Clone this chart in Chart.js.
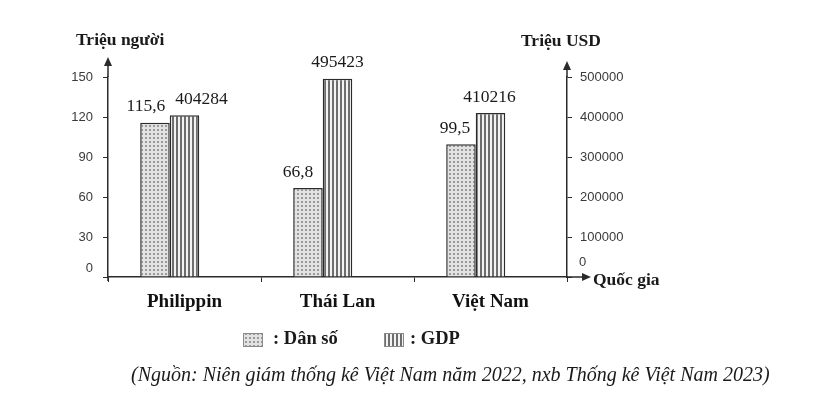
<!DOCTYPE html>
<html>
<head>
<meta charset="utf-8">
<script src="https://cdn.jsdelivr.net/npm/chart.js@4"></script>
<style>
  html, body { margin: 0; padding: 0; background: #fff; }
  #wrap { width: 828px; height: 401px; }
</style>
</head>
<body>
<div id="wrap"><canvas id="chart" width="828" height="401"></canvas></div>
<script>
const COUNTRIES = ["Philippin", "Thái Lan", "Việt Nam"];
const POPULATION = [115.6, 66.8, 99.5]; // triệu người
const GDP = [404284, 495423, 410216]; // triệu USD
const POP_MAX = 150;
const POP_STEP = 30;
const GDP_MAX = 500000;
const GDP_STEP = 100000;
const SERIES_NAMES = ["Dân số", "GDP"];
const SOURCE = "(Nguồn: Niên giám thống kê Việt Nam năm 2022, nxb Thống kê Việt Nam 2023)";

const SERIF = "'Liberation Serif', 'DejaVu Serif', serif";
const SANS = "'Liberation Sans', Arial, sans-serif";
const INK = "#2b2b2b";

// Stippled fill for population bars
const dotPattern = (ctx) => {
  const c = document.createElement("canvas");
  c.width = 4;
  c.height = 4;
  const g = c.getContext("2d");
  g.fillStyle = "#e2e2e2";
  g.fillRect(0, 0, 4, 4);
  g.fillStyle = "#9a9a9a";
  g.fillRect(1, 1, 2, 2);
  return ctx.createPattern(c, "repeat");
};

// Vertical stripes for GDP bars
const stripePattern = (ctx) => {
  const c = document.createElement("canvas");
  c.width = 4;
  c.height = 4;
  const g = c.getContext("2d");
  g.fillStyle = "#f2f2f2";
  g.fillRect(0, 0, 4, 4);
  g.fillStyle = "#6e6e6e";
  g.fillRect(0, 0, 2, 4);
  return ctx.createPattern(c, "repeat");
};

const fmtComma = (v) => String(v).replace(".", ",");

// label nudges per category: [population, gdp]
const labelNudge = [[-9, 17], [-10, 0], [-6, -1]];

const dataLabelsPlugin = {
  id: "dataLabels",
  afterDatasetsDraw: (chart) => {
    const ctx = chart.ctx;
    ctx.save();
    ctx.font = `17.5px ${SERIF}`;
    ctx.fillStyle = "#1a1a1a";
    ctx.textAlign = "center";
    ctx.textBaseline = "middle";
    [0, 1].forEach((di) => {
      const ds = chart.data.datasets[di];
      chart.getDatasetMeta(di).data.forEach((bar, i) => {
        const txt = di === 0 ? fmtComma(ds.data[i]) : String(ds.data[i]);
        ctx.fillText(txt, bar.x + labelNudge[i][di], bar.y - 16);
      });
    });
    ctx.restore();
  },
};

const arrowHead = (ctx, x, y, dir) => {
  ctx.beginPath();
  if (dir === "up") {
    ctx.moveTo(x, y);
    ctx.lineTo(x - 4, y + 9);
    ctx.lineTo(x + 4, y + 9);
  } else {
    ctx.moveTo(x, y);
    ctx.lineTo(x - 9, y - 4);
    ctx.lineTo(x - 9, y + 4);
  }
  ctx.closePath();
  ctx.fill();
};

const decorPlugin = {
  id: "decor",
  afterDraw: (chart) => {
    const { ctx, chartArea: { left, right, top, bottom } } = chart;
    ctx.save();
    ctx.strokeStyle = INK;
    ctx.fillStyle = INK;
    ctx.lineWidth = 1.5;

    // axis extensions with arrows
    ctx.beginPath();
    ctx.moveTo(left, top);
    ctx.lineTo(left, 62);
    ctx.moveTo(left, bottom);
    ctx.lineTo(left, bottom + 4);
    ctx.moveTo(right, top);
    ctx.lineTo(right, 66);
    ctx.moveTo(right, bottom);
    ctx.lineTo(586, bottom);
    ctx.stroke();
    arrowHead(ctx, left, 57, "up");
    arrowHead(ctx, right, 61, "up");
    arrowHead(ctx, 591, bottom, "right");

    // zero labels sit a little above the baseline
    ctx.font = `13px ${SANS}`;
    ctx.fillStyle = "#3a3a3a";
    ctx.textBaseline = "middle";
    ctx.textAlign = "right";
    ctx.fillText("0", left - 15, chart.scales.y.getPixelForValue(0) - 9);
    ctx.textAlign = "left";
    ctx.fillText("0", right + 12, chart.scales.y1.getPixelForValue(0) - 15);

    // axis titles
    ctx.fillStyle = "#1a1a1a";
    ctx.font = `bold 17.5px ${SERIF}`;
    ctx.fillText("Triệu người", 76, 40);
    ctx.fillText("Triệu USD", 521, 41);
    ctx.fillText("Quốc gia", 593, 280);

    // legend
    const fills = [dotPattern(ctx), stripePattern(ctx)];
    const boxX = [243, 384];
    const textX = [273, 410];
    ctx.font = `bold 18.5px ${SERIF}`;
    SERIES_NAMES.forEach((name, i) => {
      ctx.fillStyle = fills[i];
      ctx.fillRect(boxX[i], 333, 19, 13);
      ctx.strokeStyle = "#8a8a8a";
      ctx.lineWidth = 1;
      ctx.strokeRect(boxX[i] + 0.5, 333.5, 19, 13);
      ctx.fillStyle = "#1a1a1a";
      ctx.fillText(": " + name, textX[i], 339);
    });

    // source line
    ctx.font = `italic 20px ${SERIF}`;
    ctx.fillText(SOURCE, 131, 376);
    ctx.restore();
  },
};

const ctx = document.getElementById("chart").getContext("2d");

const barStyle = {
  borderColor: INK,
  borderWidth: 1.5,
  categoryPercentage: 0.579,
  barPercentage: 1,
};

new Chart(ctx, {
  type: "bar",
  data: {
    labels: COUNTRIES,
    datasets: [
      { label: SERIES_NAMES[0], data: POPULATION, yAxisID: "y", backgroundColor: dotPattern(ctx), ...barStyle },
      { label: SERIES_NAMES[1], data: GDP, yAxisID: "y1", backgroundColor: stripePattern(ctx), ...barStyle },
      // empty slot: bars sit in the left part of each category
      { label: "", data: COUNTRIES.map(() => null), yAxisID: "y", ...barStyle },
    ],
  },
  options: {
    responsive: false,
    animation: false,
    layout: { padding: { top: 77, left: 0, right: 0, bottom: 0 } },
    plugins: {
      legend: { display: false },
      tooltip: { enabled: false },
    },
    scales: {
      x: {
        offset: true,
        grid: { display: true, drawOnChartArea: false, offset: true, tickLength: 5, color: INK },
        border: { display: true, color: INK, width: 1.5 },
        ticks: {
          font: { family: SERIF, size: 19, weight: "bold" },
          color: "#111",
          padding: 9,
        },
        afterFit: (s) => { s.height = 124; },
      },
      y: {
        position: "left",
        min: 0,
        max: POP_MAX,
        grid: { display: true, drawOnChartArea: false, tickLength: 5, color: INK },
        border: { display: true, color: INK, width: 1.5 },
        ticks: {
          stepSize: POP_STEP,
          font: { family: SANS, size: 13 },
          color: "#3a3a3a",
          padding: 10,
          callback: (v) => (v === 0 ? "" : String(v)),
        },
        afterFit: (s) => { s.width = 108; },
      },
      y1: {
        position: "right",
        min: 0,
        max: GDP_MAX,
        grid: { display: true, drawOnChartArea: false, tickLength: 5, color: INK },
        border: { display: true, color: INK, width: 1.5 },
        ticks: {
          stepSize: GDP_STEP,
          font: { family: SANS, size: 13 },
          color: "#3a3a3a",
          padding: 8,
          callback: (v) => (v === 0 ? "" : String(v)),
        },
        afterFit: (s) => { s.width = 261; },
      },
    },
  },
  plugins: [dataLabelsPlugin, decorPlugin],
});
</script>
</body>
</html>
